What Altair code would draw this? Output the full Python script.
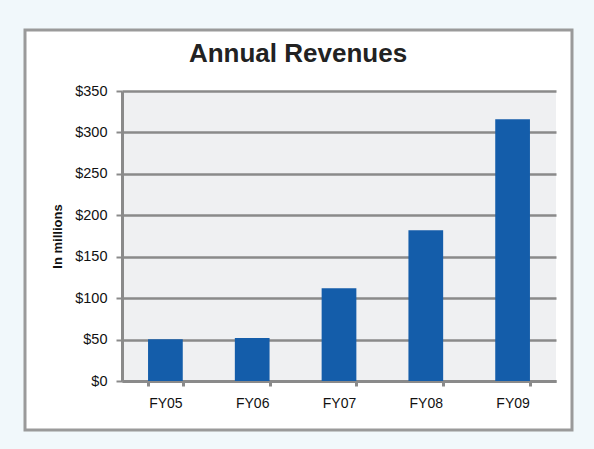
import altair as alt
import pandas as pd

years = ["FY05", "FY06", "FY07", "FY08", "FY09"]
revenues = [50.5, 52, 112, 182, 316]
y_ticks = [0, 50, 100, 150, 200, 250, 300, 350]
title_text = ["Annual Revenues"]

df = pd.DataFrame({"year": years, "revenue": revenues})
one = pd.DataFrame({"k": [0]})
tdf = pd.DataFrame({"t": title_text})

W, H = 434, 290
GRAY = "#8a8a8a"
FONT = "Liberation Sans"

bars = alt.Chart(df).mark_bar(color="#145DAA").encode(
    x=alt.X(
        "year:N", sort=years,
        scale=alt.Scale(paddingInner=0.6, paddingOuter=0.3),
        axis=alt.Axis(title=None, labelAngle=0, tickBand="extent", tickSize=5,
                      tickWidth=3, tickColor=GRAY, domainColor=GRAY, domainWidth=3,
                      labelFontSize=14, labelFont=FONT, labelColor="#111",
                      labelPadding=10, grid=False),
    ),
    y=alt.Y(
        "revenue:Q",
        scale=alt.Scale(domain=[0, 350], nice=False),
        axis=alt.Axis(values=y_ticks, format="$,.0f", title="In millions",
                      titleFont=FONT, titleFontSize=13, titleFontWeight="bold",
                      titleColor="#111", titlePadding=10,
                      labelFontSize=14.5, labelFont=FONT, labelColor="#111",
                      labelPadding=9, tickSize=6, tickWidth=2, tickColor=GRAY,
                      domainColor=GRAY, domainWidth=3,
                      grid=True, gridColor=GRAY, gridWidth=2.5),
    ),
)

# outer light blue margin (drawn as a thick stroke outside the white box)
band = alt.Chart(one).mark_rect(fillOpacity=0, stroke="#f1f8fb", strokeWidth=80).encode(
    x=alt.value(-137), x2=alt.value(490), y=alt.value(-101), y2=alt.value(379)
)
border = alt.Chart(one).mark_rect(fillOpacity=0, stroke="#9a9a9a", strokeWidth=3).encode(
    x=alt.value(-97), x2=alt.value(450), y=alt.value(-61), y2=alt.value(339)
)
title = alt.Chart(tdf).mark_text(
    font=FONT, fontSize=26, fontWeight="bold", color="#222",
    align="center", baseline="alphabetic",
).encode(x=alt.value(176), y=alt.value(-29.5), text="t:N")

chart = alt.layer(bars, band, border, title).properties(
    width=W, height=H,
    autosize=alt.AutoSizeParams(type="none"),
    padding={"left": 122, "top": 91, "right": 38, "bottom": 68},
    background="white",
).configure_view(fill="#eff0f2", stroke=None)

chart.save("out.html", embed_options={"renderer": "svg", "actions": False})
